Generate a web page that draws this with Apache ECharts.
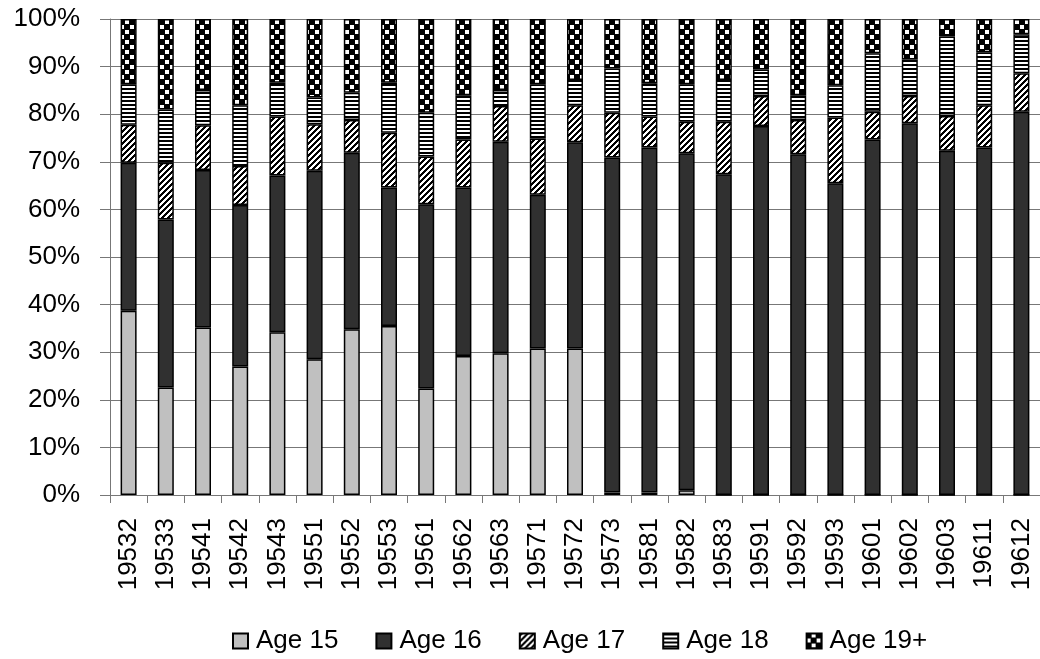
<!DOCTYPE html>
<html>
<head>
<meta charset="utf-8">
<script src="https://cdn.jsdelivr.net/npm/echarts@6/dist/echarts.min.js"></script>
<style>
html,body{margin:0;padding:0;background:#fff;}
#chart{width:1040px;height:659px;}
</style>
</head>
<body>
<div id="chart"></div>
<script>
const categories = ['19532','19533','19541','19542','19543','19551','19552','19553','19561','19562','19563','19571','19572','19573','19581','19582','19583','19591','19592','19593','19601','19602','19603','19611','19612'];
const age15 = [38.7,22.6,35.2,27.0,34.2,28.5,34.8,35.5,22.4,29.2,29.8,30.8,30.8,0.5,0.5,1.0,0,0,0,0,0,0,0,0,0];
const age16 = [31.1,35.3,33.1,33.9,32.9,39.6,37.1,29.1,38.7,35.4,44.4,32.3,43.3,70.4,72.5,70.8,67.4,77.5,71.6,65.5,74.7,78.1,72.3,73.0,80.5];
const age17 = [8.0,11.9,9.4,8.2,12.4,9.8,6.9,11.5,10.0,10.1,7.5,11.8,7.8,9.4,6.5,6.6,11.0,6.3,7.2,13.8,5.8,5.7,7.3,8.9,8.1];
const age18 = [8.5,11.2,7.4,12.8,7.1,5.6,5.7,10.5,9.2,9.3,3.4,11.4,5.3,9.3,7.0,7.9,8.8,5.6,5.2,6.8,12.3,7.7,16.7,11.1,8.2];
const age19 = [13.7,19.0,14.9,18.1,13.4,16.5,15.5,13.4,19.7,16.0,14.9,13.7,12.8,10.4,13.5,13.7,12.8,10.6,16.0,13.9,7.2,8.5,3.7,7.0,3.2];
const seriesNames = ['Age 15','Age 16','Age 17','Age 18','Age 19+'];
const yTicks = {min:0, max:100, interval:10};

function makeTile(w, h, fn) {
  const c = document.createElement('canvas');
  c.width = w; c.height = h;
  const ctx = c.getContext('2d');
  ctx.fillStyle = '#fff';
  ctx.fillRect(0, 0, w, h);
  ctx.fillStyle = '#000';
  for (let y = 0; y < h; y++) for (let x = 0; x < w; x++) if (fn(x, y)) ctx.fillRect(x, y, 1, 1);
  return c;
}
const diagTile = makeTile(6, 6, (x, y) => ((x + y) % 6) < 3);
const horizTile = makeTile(4, 4, (x, y) => y < 2);
const checkTile = makeTile(10, 10, (x, y) => {
  const cx = Math.floor(x / 5), cy = Math.floor(y / 5);
  if ((cx + cy) % 2 === 0) return true;
  return (x % 5 === 4) || (y % 5 === 4);
});

const fills = [
  '#C0C0C0',
  '#303030',
  {image: diagTile, repeat: 'repeat'},
  {image: horizTile, repeat: 'repeat'},
  {image: checkTile, repeat: 'repeat'}
];
const dataSets = [age15, age16, age17, age18, age19];
const FONT = "'Liberation Sans', Arial, sans-serif";

const chart = echarts.init(document.getElementById('chart'), null, {renderer: 'canvas'});
chart.setOption({
  animation: false,
  backgroundColor: '#fff',
  grid: {left: 110, right: -4, top: 19, bottom: 164, containLabel: false},
  legend: {
    data: seriesNames,
    left: 227,
    top: 623,
    itemWidth: 15,
    itemHeight: 15,
    itemGap: 37,
    icon: 'rect',
    textStyle: {fontFamily: FONT, fontSize: 26, color: '#000', padding: [0, 0, 0, 3]}
  },
  xAxis: {
    type: 'category',
    data: categories,
    axisLine: {lineStyle: {color: '#777', width: 1}},
    axisTick: {show: true, length: 8, lineStyle: {color: '#777'}},
    axisLabel: {rotate: 90, margin: 23, fontFamily: FONT, fontSize: 26, color: '#000', interval: 0},
    splitLine: {show: false}
  },
  yAxis: {
    type: 'value',
    min: yTicks.min, max: yTicks.max, interval: yTicks.interval,
    axisLine: {show: true, lineStyle: {color: '#777', width: 1}},
    axisTick: {show: true, length: 10, lineStyle: {color: '#777'}},
    axisLabel: {formatter: '{value}%', margin: 30, fontFamily: FONT, fontSize: 26, color: '#000'},
    splitLine: {show: true, lineStyle: {color: '#777', width: 1}}
  },
  series: seriesNames.map((name, i) => ({
    name: name,
    type: 'bar',
    stack: 'total',
    barWidth: 16,
    data: dataSets[i],
    itemStyle: {color: fills[i], borderColor: '#000', borderWidth: 1.5},
    emphasis: {disabled: true}
  }))
});
</script>
</body>
</html>
